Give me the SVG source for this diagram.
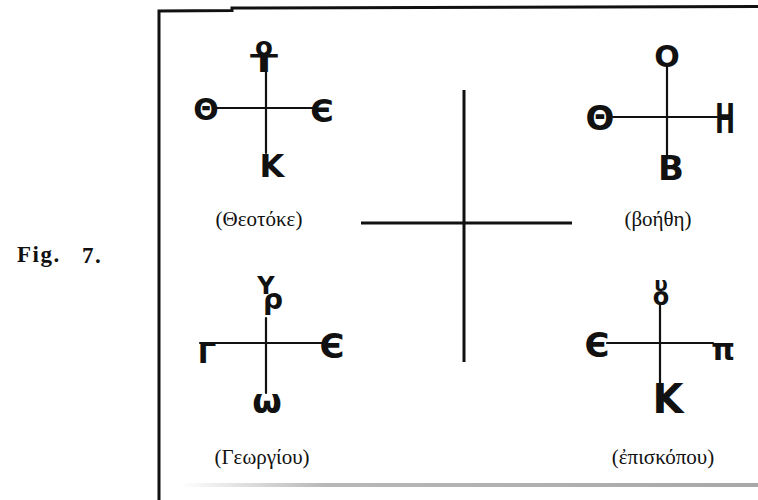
<svg xmlns="http://www.w3.org/2000/svg" width="758" height="500" viewBox="0 0 758 500">
<defs>
<linearGradient id="band" x1="0" y1="0" x2="1" y2="0">
<stop offset="0" stop-color="#ffffff"/>
<stop offset="0.25" stop-color="#b8b8b8"/>
<stop offset="1" stop-color="#a8a8a8"/>
</linearGradient>
</defs>
<style>
.ln{stroke:#111;stroke-width:2.2;fill:none;stroke-linecap:round}
.big{stroke:#111;stroke-width:3;fill:none}
.m{font-family:"DejaVu Sans",sans-serif;font-weight:bold;fill:#111;text-anchor:middle}
.lab{font-family:"Liberation Serif",serif;font-size:21px;fill:#111;text-anchor:middle}
.fig{font-family:"Liberation Serif",serif;font-size:23px;font-weight:bold;fill:#111;letter-spacing:1.5px}
</style>
<rect width="758" height="500" fill="#fff"/>
<g id="frame">
<path class="big" d="M159 500 L159 11 L232 10.5 L232 8 L758 6.5"/>
<rect x="180" y="483" width="578" height="4" fill="url(#band)"/>
</g>
<text class="fig" x="17" y="262">Fig.</text>
<text class="fig" x="82" y="263">7.</text>
<g id="center-cross">
<line class="big" x1="464" y1="90" x2="464" y2="362"/>
<line class="big" x1="361" y1="223" x2="572" y2="223"/>
</g>
<g id="connectors">
<line class="ln" x1="266" y1="70" x2="266" y2="153"/>
<line class="ln" x1="216" y1="108" x2="316" y2="108"/>
<line class="ln" x1="667" y1="67" x2="667" y2="157"/>
<line class="ln" x1="613" y1="117" x2="717" y2="117"/>
<line class="ln" x1="266" y1="318" x2="266" y2="393"/>
<line class="ln" x1="200" y1="343" x2="326" y2="343"/>
<line class="ln" x1="660" y1="305" x2="660" y2="392"/>
<line class="ln" x1="607" y1="343" x2="713" y2="343"/>
</g>
<g id="theotoke">
<text class="m"><tspan x="264" y="56" font-size="26">ο</tspan><tspan x="264" y="72" font-size="25" textLength="28" lengthAdjust="spacingAndGlyphs">T</tspan></text>
<text class="m" x="206" y="120" font-size="30">Θ</text>
<text class="m" x="322" y="122" font-size="32">Є</text>
<text class="m" x="272" y="177" font-size="32" font-weight="normal">K</text>
<text class="lab" x="259" y="226">(Θεοτόκε)</text>
</g>
<g id="boethe">
<text class="m" x="667" y="67" font-size="30">O</text>
<text class="m" x="600" y="130" font-size="34">Θ</text>
<text class="m" x="725" y="133" font-size="40" textLength="20" lengthAdjust="spacingAndGlyphs">H</text>
<text class="m" x="671" y="180" font-size="34">B</text>
<text class="lab" x="658" y="226">(βοήθη)</text>
</g>
<g id="georgiou">
<text class="m"><tspan x="266" y="294" font-size="24">Y</tspan><tspan x="273" y="309" font-size="28">ρ</tspan></text>
<text class="m" x="207" y="363" font-size="29">Γ</text>
<text class="m" x="332" y="358" font-size="34">Є</text>
<text class="m" x="267" y="413" font-size="34">ω</text>
<text class="lab" x="262" y="464">(Γεωργίου)</text>
</g>
<g id="episkopou">
<text class="m"><tspan x="661" y="291" font-size="20">υ</tspan><tspan x="661" y="305" font-size="24">ο</tspan></text>
<text class="m" x="597" y="357" font-size="34">Є</text>
<text class="m" x="723" y="360" font-size="30">π</text>
<text class="m" x="668" y="413" font-size="40" font-weight="normal">K</text>
<text class="lab" x="663" y="464">(ἐπισκόπου)</text>
</g>
</svg>
